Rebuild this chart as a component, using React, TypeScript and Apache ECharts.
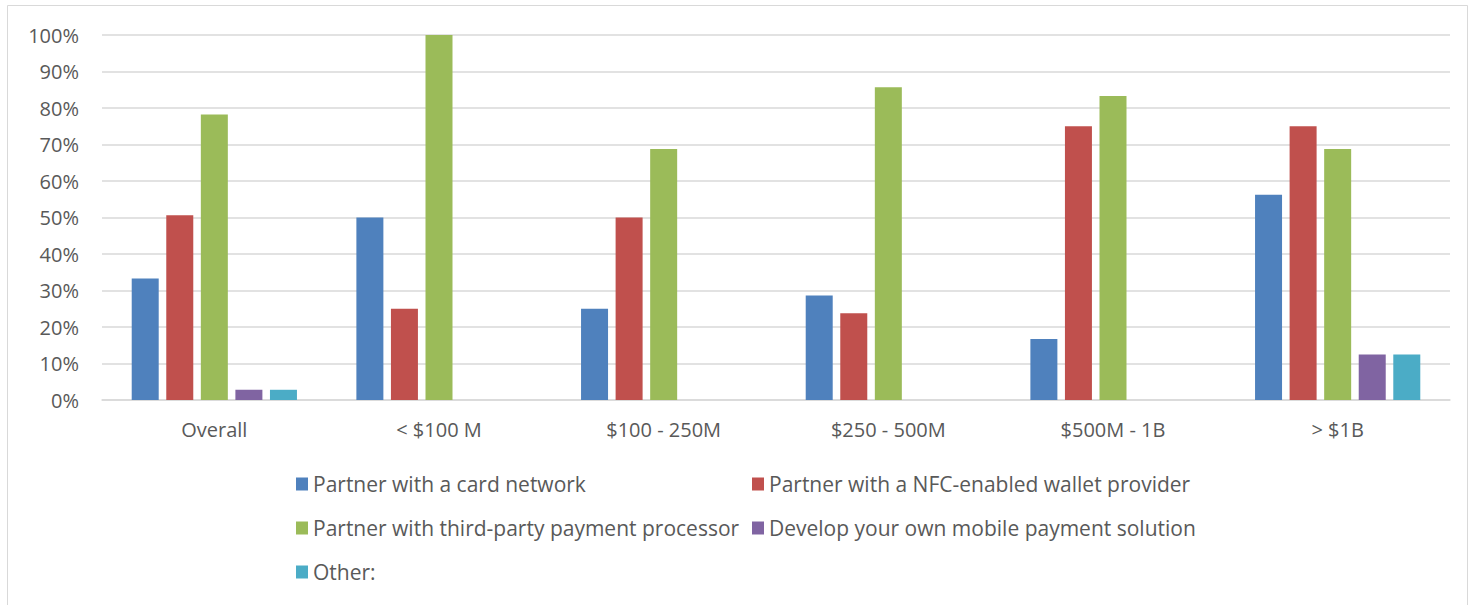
import React, { useEffect, useRef } from "react";
import * as echarts from "echarts";

const categories = ["Overall", "< $100 M", "$100 - 250M", "$250 - 500M", "$500M - 1B", "> $1B"];
const seriesNames = [
  "Partner with a card network",
  "Partner with a NFC-enabled wallet provider",
  "Partner with third-party payment processor",
  "Develop your own mobile payment solution",
  "Other:",
];
const cardNetwork = [33.3, 50, 25, 28.6, 16.7, 56.25];
const nfcWallet = [50.6, 25, 50, 23.8, 75, 75];
const thirdParty = [78.2, 100, 68.75, 85.7, 83.3, 68.75];
const ownSolution = [2.8, 0, 0, 0, 0, 12.5];
const other = [2.8, 0, 0, 0, 0, 12.5];
const colors = ["#4f81bd", "#c0504d", "#9bbb59", "#8064a2", "#4bacc6"];

const FONT = "Open Sans";
const TEXT = "#595959";

export default function App() {
  const ref = useRef<HTMLDivElement>(null);
  useEffect(() => {
    if (!ref.current) return;
    const chart = echarts.init(ref.current, null, { renderer: "svg" });
    const values = [cardNetwork, nfcWallet, thirdParty, ownSolution, other];
    const legendText = { color: TEXT, fontFamily: FONT, fontSize: 21, lineHeight: 22 };
    chart.setOption({
      animation: false,
      backgroundColor: "#ffffff",
      grid: { left: 102, right: 20, top: 35, bottom: 205, containLabel: false },
      xAxis: {
        type: "category",
        data: categories,
        axisLine: { lineStyle: { color: "#d9d9d9", width: 1.5 } },
        axisTick: { show: false },
        axisLabel: { color: TEXT, fontFamily: FONT, fontSize: 20, margin: 19 },
      },
      yAxis: {
        type: "value",
        min: 0,
        max: 100,
        interval: 10,
        axisLine: { show: false },
        axisTick: { show: false },
        splitLine: { lineStyle: { color: "#d9d9d9", width: 1.5 } },
        axisLabel: {
          color: TEXT,
          fontFamily: FONT,
          fontSize: 20,
          margin: 23,
          formatter: (v: number) => v + "%",
        },
      },
      legend: [
        {
          orient: "vertical",
          left: 291,
          top: 468,
          itemWidth: 12,
          itemHeight: 13,
          itemGap: 22,
          icon: "rect",
          textStyle: legendText,
          data: [seriesNames[0], seriesNames[2], seriesNames[4]],
        },
        {
          orient: "vertical",
          left: 747,
          top: 468,
          itemWidth: 12,
          itemHeight: 13,
          itemGap: 22,
          icon: "rect",
          textStyle: legendText,
          data: [seriesNames[1], seriesNames[3]],
        },
      ],
      graphic: [
        {
          type: "rect",
          shape: { x: 7.5, y: 5.5, width: 1460, height: 660 },
          style: { fill: "none", stroke: "#d9d9d9", lineWidth: 1 },
          silent: true,
        },
      ],
      series: seriesNames.map((name, i) => ({
        name,
        type: "bar",
        data: values[i],
        barWidth: 27,
        barGap: "28%",
        itemStyle: { color: colors[i] },
      })),
    });
    return () => chart.dispose();
  }, []);
  return (
    <div
      ref={ref}
      style={{ position: "fixed", left: 0, top: 0, width: 1470, height: 605 }}
    />
  );
}
